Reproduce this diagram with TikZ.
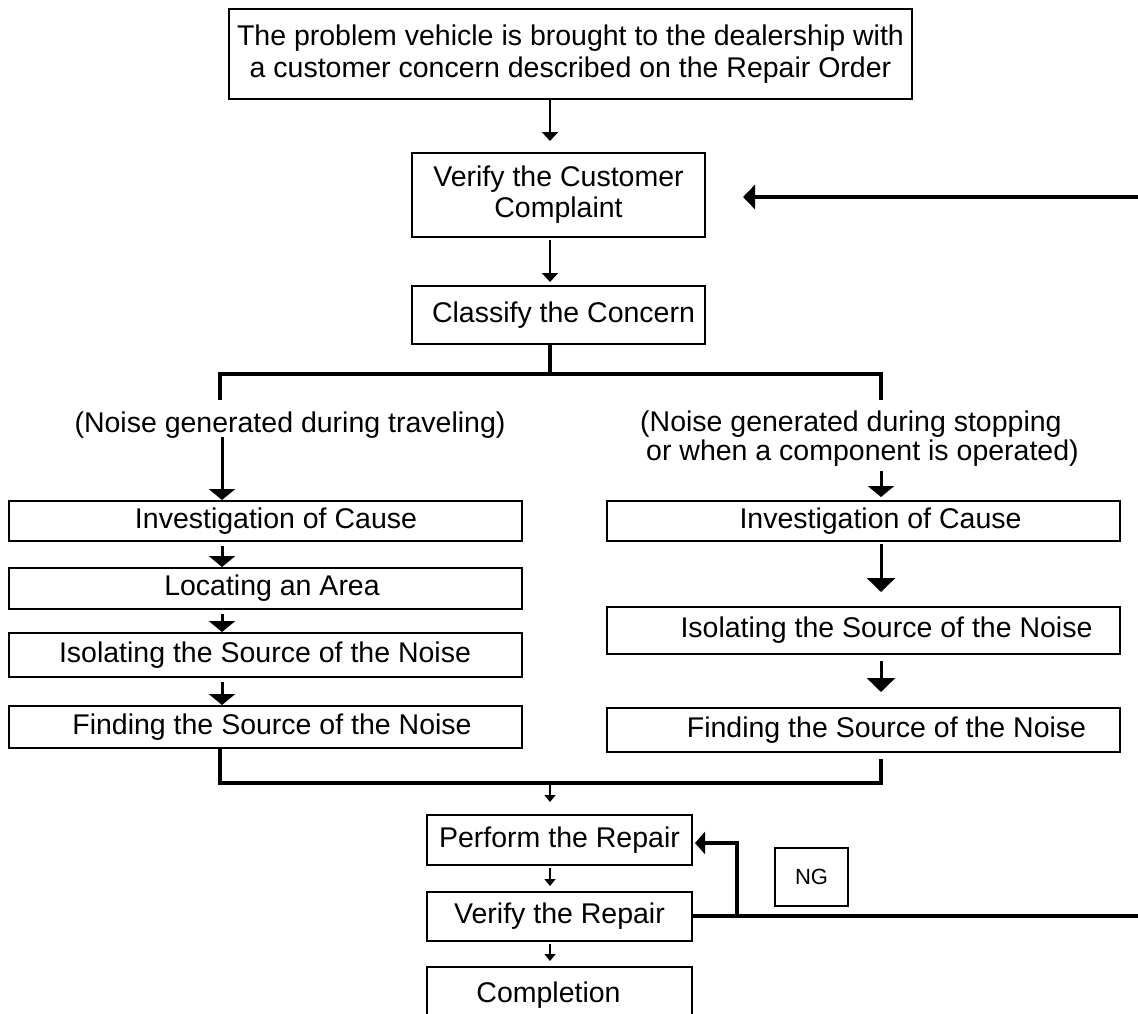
\documentclass[tikz,border=0pt]{standalone}
\usepackage{fontspec}
\setmainfont{Liberation Sans}
\usetikzlibrary{arrows.meta}
\begin{document}
\begin{tikzpicture}[x=1pt,y=-1pt,
  box/.style={draw,line width=2pt,inner sep=0pt,align=center,font=\fontsize{28.5}{31}\selectfont},
  lbl/.style={inner sep=0pt,font=\fontsize{28.5}{29}\selectfont},
  arr/.style={line width=2.5pt,-{Triangle[width=16pt,length=9pt]}},
  carr/.style={line width=3pt,-{Triangle[width=26pt,length=11pt]}},
  sarr/.style={line width=1.5pt,-{Triangle[width=11pt,length=7pt]}},
  conn/.style={line width=4pt},
  fb/.style={line width=3.5pt}]
\clip (0,0) rectangle (1138,1013);
\useasboundingbox (0,0) rectangle (1138,1013);
\coordinate (cx) at (550,0);
\coordinate (lx) at (222,0);
\coordinate (rx) at (881,0);
\node[box,minimum width=683pt,minimum height=90pt,font=\fontsize{28.5}{32}\selectfont] (top) at (570.5,54) {The problem vehicle is brought to the dealership with\\ a customer concern described on the Repair Order};
\node[box,minimum width=293pt,minimum height=84pt] (verify) at (558.5,195) {Verify the Customer\\Complaint};
\node[box,minimum width=293pt,minimum height=58pt] (classify) at (558.5,315) {\hspace*{10pt}Classify the Concern};
\node[lbl,anchor=base] (ltxt) at (290,432) {(Noise generated during traveling)};
\node[lbl,anchor=north west,align=left] (rtxt) at (640,411) {(Noise generated during stopping\\\hspace*{6pt}or when a component is operated)};
\node[box,minimum width=513pt,minimum height=40pt] (linv) at (265,521) {\hspace*{22pt}Investigation of Cause};
\node[box,minimum width=513pt,minimum height=41pt] (lloc) at (265,588.5) {\hspace*{14pt}Locating an Area};
\node[box,minimum width=513pt,minimum height=44pt] (liso) at (265,655) {Isolating the Source of the Noise};
\node[box,minimum width=513pt,minimum height=42pt] (lfind) at (265,727) {\hspace*{14pt}Finding the Source of the Noise};
\node[box,minimum width=513pt,minimum height=40pt] (rinv) at (863.5,521) {\hspace*{34pt}Investigation of Cause};
\node[box,minimum width=513pt,minimum height=47pt] (riso) at (863.5,630.5) {\hspace*{46pt}Isolating the Source of the Noise};
\node[box,minimum width=513pt,minimum height=44pt] (rfind) at (863.5,730) {\hspace*{46pt}Finding the Source of the Noise};
\node[box,minimum width=265pt,minimum height=50pt] (perform) at (559.5,840) {Perform the Repair};
\node[box,minimum width=265pt,minimum height=49pt] (verifyr) at (559.5,916.5) {Verify the Repair};
\node[box,minimum width=265pt,minimum height=56pt] (compl) at (559.5,995) {Completion\hspace*{22pt}};
\node[box,minimum width=73pt,minimum height=58pt,font=\fontsize{22}{26}\selectfont] (ng) at (811.5,877) {NG};
% main column
\draw[arr,shorten >=11pt] (top.south -| cx) -- (verify.north -| cx);
\draw[arr,shorten >=3pt] (verify.south -| cx) ++(0,2) -- (classify.north -| cx);
% branch
\coordinate (bl) at (220,374);
\coordinate (br) at (881,374);
\draw[conn] (classify.south -| cx) -- (bl -| cx);
\draw[conn] (220,400) -- (bl) -- (br) -- (881,400);
\draw[carr] (ltxt.base -| lx) ++(0,5) -- (linv.north -| lx);
\draw[carr,shorten >=3pt] (rtxt.south -| rx) ++(0,4) -- (rinv.north -| rx);
% left chain
\draw[carr] (linv.south -| lx) ++(0,4) -- (lloc.north -| lx);
\draw[carr] (lloc.south -| lx) ++(0,4) -- (liso.north -| lx);
\draw[carr] (liso.south -| lx) ++(0,4) -- (lfind.north -| lx);
% right chain
\draw[carr,-{Triangle[width=28pt,length=14pt]},shorten >=14pt] (rinv.south -| rx) ++(0,2) -- (riso.north -| rx);
\draw[carr,-{Triangle[width=28pt,length=14pt]},shorten >=15pt] (riso.south -| rx) ++(0,6) -- (rfind.north -| rx);
% merge
\coordinate (ml) at (220,783);
\coordinate (mr) at (881,783);
\draw[conn] (lfind.south -| ml) -- (ml) -- (mr) -- (881,759);
\draw[sarr,shorten >=12pt] (ml -| cx) ++(0,2) -- (perform.north -| cx);
\draw[sarr,shorten >=5pt] (perform.south -| cx) ++(0,2) -- (verifyr.north -| cx);
\draw[sarr,shorten >=5pt] (verifyr.south -| cx) ++(0,2) -- (compl.north -| cx);
% feedback
\coordinate (fbend) at (1140,916);
\coordinate (fbtop) at (1140,197);
\coordinate (fbup) at (737,916);
\draw[fb] (verifyr.east |- fbend) -- (fbend);
\draw[fb,-{Triangle[width=22pt,length=10pt]},shorten >=2pt] (fbup) -- (737,843) -- (perform.east |- 0,843);
\draw[fb,-{Triangle[width=24pt,length=12pt]},shorten >=37pt] (fbtop) -- (verify.east |- fbtop);
\end{tikzpicture}
\end{document}
